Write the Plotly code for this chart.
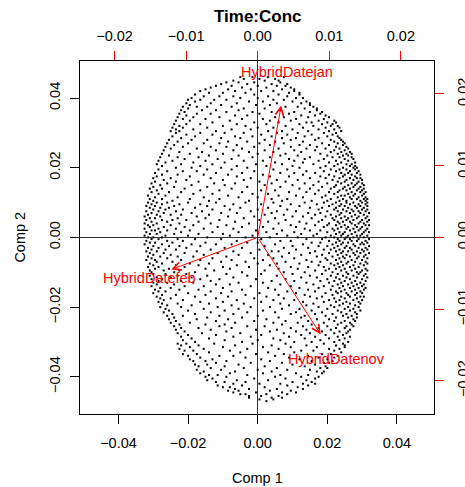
import plotly.graph_objects as go

# ---------------- data ----------------
TITLE = "Time:Conc"
X_LABEL = "Comp 1"
Y_LABEL = "Comp 2"

VAR_NAMES = ["HybridDatejan", "HybridDatefeb", "HybridDatenov"]
LOAD_X = [0.0041, -0.0151, 0.0110]
LOAD_Y = [0.0230, -0.0056, -0.0169]

SCORE_TICKS = [-0.04, -0.02, 0.00, 0.02, 0.04]
LOAD_TICKS = [-0.02, -0.01, 0.00, 0.01, 0.02]

# score cloud (units of 0.0005): {y: [x, ...]}
SCORE_UNIT = 0.0005
CLOUD_TOP = {
    92: [-10, -3, 6, 15], 91: [-8, 1, 10], 90: [-14, 4, 12], 89: [-18, -11, -2, 13],
    88: [-21, -6, 8, 17], 87: [-24, -15, 0, 11, 16], 86: [-27, -9, 5, 19],
    85: [-30, -17, -4, 14, 21], 84: [-33, -13, 2, 9, 21], 83: [-28, -20, -7, 18, 24],
    82: [-36, -2, 12, 24], 81: [-31, -22, -14, 6, 17], 80: [-38, -10, 0, 22, 26],
    79: [-40, -33, -25, -18, 9, 15], 78: [-36, -5, 3, 20, 28], 77: [-41, -27, -12, 11, 25, 30],
    76: [-39, -21, -1, 7, 30], 75: [-43, -35, -29, -15, 16, 23, 32], 74: [-40, -8, 4, 27, 34],
    73: [-44, -32, -24, -11, 13, 34], 72: [-42, -18, -3, 8, 21, 30, 37],
    71: [-45, -35, -27, 1, 18, 36], 70: [-41, -13, -6, 25, 33, 39],
    69: [-46, -37, -22, 10, 15, 29, 41], 68: [-43, -30, -9, 3, 22, 38],
    67: [-47, -39, -16, 7, 19, 35, 44], 66: [-26, -2, 12, 28, 31, 40, 45],
    65: [-48, -41, -33, -12, 5, 24, 37, 43], 64: [-45, -20, -7, 16, 32, 42, 46],
    63: [-49, -43, -29, 0, 9, 26, 39, 47], 62: [-47, -37, -15, -4, 20, 35, 44],
    61: [-50, -45, -24, 6, 14, 29, 41, 48],
}
CLOUD_UPPER = {
    60: [-47, -33, -19, -8, 11, 23, 38, 45], 59: [-41, -26, 2, 17, 31, 43],
    58: [-49, -36, -13, -3, 8, 27, 40, 46], 57: [-44, -21, -10, 14, 22, 35, 47],
    56: [-51, -38, -29, 4, 19, 33, 42, 48], 55: [-46, -17, -6, 10, 26, 44, 49],
    54: [-52, -40, -31, -22, 1, 15, 37, 46, 50], 53: [-48, -12, 7, 24, 30, 41, 49],
    52: [-53, -43, -27, -18, -2, 19, 34, 45, 51], 51: [-50, -35, -9, 12, 28, 39, 47, 52],
    50: [-54, -24, -14, 4, 21, 33, 44, 50], 49: [-45, -32, -5, 9, 25, 42, 48, 53],
    48: [-55, -39, -20, 0, 16, 36, 46, 51, 54], 47: [-51, -28, -11, 13, 23, 40, 49, 52],
    46: [-56, -46, -34, -3, 7, 30, 43, 47, 54], 45: [-42, -23, -15, 18, 27, 38, 50, 55],
    44: [-57, -49, -30, -8, 3, 21, 35, 45, 52], 43: [-53, -37, -19, 10, 26, 41, 48, 56],
    42: [-58, -44, -26, -1, 14, 32, 46, 51, 54], 41: [-55, -33, -12, 5, 20, 39, 44, 53, 56],
    40: [-47, -38, -21, -6, 24, 36, 49, 55, 57], 39: [-57, -29, -15, 9, 17, 42, 47, 51, 56],
    38: [-52, -43, -35, -2, 28, 38, 45, 53, 58], 37: [-59, -24, -9, 13, 21, 33, 48, 52, 57],
    36: [-55, -46, -31, -17, 3, 26, 41, 50, 54, 59], 35: [-58, -39, -12, 7, 18, 36, 44, 49, 56],
    34: [-60, -50, -27, -4, 30, 39, 47, 53, 57, 59], 33: [-54, -41, -20, -8, 11, 23, 43, 51, 55, 60],
    32: [-59, -47, -34, 1, 16, 35, 46, 50, 58], 31: [-61, -52, -25, -13, 8, 27, 40, 48, 54, 57, 60],
    30: [-56, -38, -19, 4, 20, 32, 45, 52, 56, 61], 29: [-60, -48, -29, -6, 13, 37, 44, 50, 55, 59],
    28: [-62, -55, -42, -15, 24, 30, 42, 49, 53, 58, 61], 27: [-58, -33, -22, 2, 10, 35, 47, 51, 57, 60],
    26: [-61, -51, -44, -9, 18, 28, 41, 46, 54, 59, 62], 25: [-57, -37, -26, -3, 6, 33, 44, 52, 56, 61],
    24: [-63, -53, -17, 12, 22, 39, 48, 50, 55, 60], 23: [-59, -46, -31, -11, 0, 26, 37, 46, 53, 58, 62],
    22: [-62, -55, -39, -22, 8, 17, 42, 49, 54, 57, 61, 63], 21: [-60, -49, -28, -5, 14, 31, 40, 47, 51, 59, 62],
}
CLOUD_MIDDLE = {
    20: [-63, -58, -52, -40, -24, -7, 9, 27, 38, 45, 51, 55, 60, 63],
    19: [-61, -55, -45, -33, -14, 2, 19, 34, 43, 48, 53, 58, 62],
    18: [-64, -59, -48, -29, -19, 13, 24, 41, 47, 50, 56, 59, 63],
    17: [-62, -56, -51, -36, -10, 6, 30, 37, 45, 52, 57, 61],
    16: [-60, -53, -43, -26, -16, 0, 17, 35, 44, 49, 54, 60, 63],
    15: [-64, -57, -47, -32, -4, 11, 22, 40, 46, 51, 55, 58, 62],
    14: [-61, -54, -38, -21, -12, 8, 29, 36, 48, 53, 59, 64],
    13: [-63, -58, -50, -44, -28, 4, 15, 33, 42, 47, 56, 61],
    12: [-65, -56, -35, -17, -2, 20, 26, 39, 45, 50, 54, 58, 63],
    11: [-62, -59, -46, -30, -8, 10, 31, 43, 48, 52, 57, 62],
    10: [-64, -55, -49, -41, -22, 1, 16, 37, 44, 51, 55, 60, 64],
    9: [-61, -52, -34, -13, 6, 24, 35, 46, 49, 53, 59, 63],
    8: [-65, -58, -45, -27, -5, 12, 28, 41, 47, 54, 58, 61],
    7: [-63, -60, -50, -37, -18, 19, 33, 40, 45, 50, 56, 62, 64],
    6: [-62, -54, -42, -23, -9, 3, 22, 38, 48, 52, 57, 60],
    5: [-65, -57, -47, -31, -14, 9, 27, 43, 46, 51, 55, 59, 63],
    4: [-61, -59, -52, -39, -1, 14, 30, 36, 44, 53, 58, 62],
    3: [-64, -56, -44, -26, -11, 5, 21, 40, 47, 50, 56, 61, 64],
    2: [-62, -58, -48, -34, -20, 11, 25, 34, 45, 49, 54, 60],
    1: [-65, -53, -40, -16, -3, 17, 32, 42, 48, 52, 57, 59, 63],
    0: [-63, -60, -55, -29, -7, 7, 23, 39, 44, 51, 55, 61],
    -1: [-61, -57, -46, -36, -21, 2, 28, 37, 46, 50, 53, 58, 64],
    -2: [-64, -52, -43, -12, 13, 19, 41, 47, 54, 57, 62],
    -3: [-62, -59, -49, -30, -6, 0, 31, 36, 45, 49, 52, 60, 63],
    -4: [-65, -55, -38, -24, -15, 10, 26, 43, 48, 55, 59, 61],
    -5: [-60, -51, -45, -33, 4, 20, 35, 40, 46, 51, 56, 64],
    -6: [-63, -57, -41, -19, -9, 15, 29, 44, 50, 53, 58, 62],
    -7: [-61, -53, -47, -27, 1, 22, 38, 42, 47, 54, 60, 63],
    -8: [-64, -58, -35, -14, 8, 12, 33, 45, 49, 52, 57, 61],
    -9: [-62, -54, -42, -23, -4, 18, 30, 41, 48, 55, 59, 64],
    -10: [-60, -50, -31, -11, 6, 25, 37, 46, 51, 56, 62],
    -11: [-63, -56, -46, -37, -18, 14, 34, 43, 49, 53, 58, 61],
    -12: [-61, -52, -26, -2, 9, 21, 39, 47, 50, 57, 63],
    -13: [-64, -59, -44, -33, -15, 3, 28, 40, 45, 54, 60],
    -14: [-58, -49, -21, -7, 16, 31, 36, 48, 52, 56, 62],
    -15: [-62, -55, -39, -28, 0, 11, 24, 42, 46, 51, 59, 63],
    -16: [-60, -47, -34, -12, 7, 35, 44, 49, 55, 61],
    -17: [-63, -57, -42, -20, -5, 19, 29, 38, 47, 53, 58],
    -18: [-59, -51, -30, -16, 12, 23, 41, 45, 50, 56, 62],
    -19: [-62, -54, -45, -25, 4, 33, 39, 48, 54, 60, 63],
    -20: [-61, -48, -36, -9, 15, 27, 43, 51, 57, 59],
}
CLOUD_LOWER = {
    -21: [-60, -53, -41, -18, 2, 20, 37, 46, 52, 58, 62], -22: [-62, -46, -29, -6, 11, 30, 42, 49, 55, 61],
    -23: [-58, -50, -38, -14, 25, 34, 45, 51, 57, 63], -24: [-61, -55, -33, -22, -1, 16, 40, 47, 53, 60],
    -25: [-57, -44, -27, 8, 21, 36, 44, 50, 56, 62], -26: [-60, -52, -37, -11, 3, 28, 41, 48, 54, 59],
    -27: [-58, -48, -24, -16, 13, 32, 46, 52, 57, 61], -28: [-61, -42, -31, -4, 19, 38, 43, 49, 55, 60],
    -29: [-56, -50, -20, 6, 24, 35, 47, 53, 58, 62], -30: [-59, -45, -34, -9, 10, 29, 42, 50, 56, 61],
    -31: [-57, -53, -27, -15, 17, 33, 45, 48, 54, 59], -32: [-60, -40, -21, 1, 22, 39, 46, 51, 57, 60],
    -33: [-55, -47, -30, -7, 12, 27, 43, 52, 56], -34: [-58, -36, -17, 5, 30, 37, 48, 53, 59, 61],
    -35: [-56, -50, -24, -2, 15, 34, 44, 50, 57], -36: [-54, -43, -12, 9, 21, 41, 47, 55, 60],
    -37: [-57, -33, -20, 2, 26, 38, 45, 51, 58], -38: [-55, -46, -28, -8, 13, 32, 49, 53, 59],
    -39: [-52, -38, -15, 18, 28, 42, 47, 56], -40: [-56, -44, -23, -4, 7, 35, 44, 52, 58],
    -41: [-53, -31, -11, 14, 24, 40, 50, 55], -42: [-51, -40, -19, 3, 31, 46, 53, 59],
    -43: [-54, -27, -6, 10, 22, 37, 48, 56], -44: [-49, -36, -14, 19, 33, 43, 51, 57],
    -45: [-52, -43, -22, 0, 27, 39, 49, 54], -46: [-48, -29, -9, 12, 25, 45, 52, 57],
    -47: [-51, -35, -17, 5, 34, 41, 55], -48: [-47, -24, -2, 16, 29, 44, 50, 56],
    -49: [-50, -39, -13, 9, 23, 38, 48, 53], -50: [-45, -30, -19, 14, 31, 46, 54],
    -51: [-48, -22, -6, 4, 26, 40, 51, 55], -52: [-44, -34, -15, 19, 35, 45, 50],
    -53: [-47, -27, -1, 11, 28, 42, 53], -54: [-42, -18, 7, 22, 37, 47, 52],
    -55: [-46, -32, -10, 15, 30, 44, 51], -56: [-40, -24, 2, 25, 39, 49],
    -57: [-44, -14, -4, 18, 33, 46, 53], -58: [-38, -28, 9, 27, 41, 50],
    -59: [-43, -19, 0, 13, 36, 47], -60: [-36, -9, 21, 31, 44, 52],
}
CLOUD_BOTTOM = {
    -61: [-46, -41, -25, -3, 16, 38, 49], -62: [-44, -34, -13, 8, 28, 45, 50],
    -63: [-39, -20, 3, 19, 34, 50], -64: [-45, -31, -6, 12, 41, 47],
    -65: [-42, -37, -16, 25, 32, 44], -66: [-28, -10, 6, 21, 48],
    -67: [-43, -35, -1, 15, 37, 42], -68: [-40, -22, -14, 10, 29, 46],
    -69: [-33, -7, 18, 35, 44], -70: [-39, -26, 2, 24, 40],
    -71: [-37, -30, -18, 7, 31, 43], -72: [-24, -4, 14, 38, 41],
    -73: [-36, -29, -11, 20, 33], -74: [-34, -19, 4, 27, 39],
    -75: [-27, -8, 11, 36, 40], -76: [-35, -21, 0, 17, 30],
    -77: [-31, -13, 8, 34, 38], -78: [-33, -16, 3, 22, 37],
    -79: [-28, -23, -6, 13, 29], -80: [-30, -18, 10, 25, 35],
    -81: [-26, -2, 16, 33], -82: [-29, -12, 6, 28], -83: [-24, -19, -7, 20, 31],
    -84: [-14, 1, 13, 26, 33], -85: [-23, -9, 17, 29], -86: [-20, -16, 4, 23],
    -87: [-13, -5, 11, 26], -88: [-17, -11, 7, 19], -89: [-14, -1, 14, 22],
    -90: [-10, -7, 5, 17], -91: [-5, 2, 12], -92: [-5, 8, 14], -93: [1, 9], -94: [5],
}
CLOUD_PARTS = [CLOUD_TOP, CLOUD_UPPER, CLOUD_MIDDLE, CLOUD_LOWER, CLOUD_BOTTOM]

# ---------------- figure ----------------
FONT = "Liberation Sans, Arial, Helvetica, sans-serif"
RED = "#FF0000"

score_x, score_y = [], []
for part in CLOUD_PARTS:
    for yu, row in part.items():
        for xu in row:
            score_x.append(xu * SCORE_UNIT)
            score_y.append(yu * SCORE_UNIT)

fig = go.Figure()
fig.add_trace(go.Scatter(
    x=score_x, y=score_y, mode="markers", xaxis="x", yaxis="y",
    marker=dict(symbol="square", size=2, color="black", line=dict(width=0)),
    hoverinfo="skip", showlegend=False,
))
# invisible trace carrying the loading axes
fig.add_trace(go.Scatter(
    x=LOAD_X, y=LOAD_Y, mode="markers", xaxis="x2", yaxis="y2",
    marker=dict(size=1, opacity=0), hoverinfo="skip", showlegend=False,
))

annotations = []
for name, lx, ly in zip(VAR_NAMES, LOAD_X, LOAD_Y):
    annotations.append(dict(
        x=0.8 * lx, y=0.8 * ly, ax=0, ay=0, xref="x2", yref="y2",
        axref="x2", ayref="y2", text="", showarrow=True, arrowhead=5,
        arrowsize=1.6, arrowwidth=1, arrowcolor=RED, standoff=0,
    ))
    annotations.append(dict(
        x=lx, y=ly, xref="x2", yref="y2", text=name, showarrow=False,
        xanchor="center", yanchor="middle",
        font=dict(family=FONT, size=14.5, color=RED),
    ))
annotations.append(dict(
    x=0.502, y=1.125, xref="paper", yref="paper", text="<b>" + TITLE + "</b>",
    showarrow=False, xanchor="center", yanchor="middle",
    font=dict(family=FONT, size=17, color="black"),
))
annotations.append(dict(
    x=0.502, y=-0.1805, xref="paper", yref="paper", text=X_LABEL,
    showarrow=False, xanchor="center", yanchor="middle",
    font=dict(family=FONT, size=14.5, color="black"),
))
annotations.append(dict(
    x=-0.172, y=0.5, xref="paper", yref="paper", text=Y_LABEL, textangle=-90,
    showarrow=False, xanchor="center", yanchor="middle",
    font=dict(family=FONT, size=14.5, color="black"),
))

tickfont = dict(family=FONT, size=14.5, color="black")
common = dict(automargin=False, showgrid=False, tickfont=tickfont, tickformat=".2f",
              ticks="outside", tickwidth=1, ticklen=9)
fig.update_layout(
    width=465, height=487,
    margin=dict(l=80, r=31, t=61, b=73, pad=0, autoexpand=False),
    paper_bgcolor="white", plot_bgcolor="white",
    showlegend=False,
    xaxis=dict(
        range=[-0.05106, 0.05066], tickvals=SCORE_TICKS, tickcolor="black",
        showline=True, linecolor="black", linewidth=1, mirror=True,
        zeroline=True, zerolinecolor="#333333", zerolinewidth=1,
        ticklabelstandoff=7, **common,
    ),
    yaxis=dict(
        range=[-0.05069, 0.05063], tickvals=SCORE_TICKS, tickcolor="black",
        tickangle=-90, showline=True, linecolor="black", linewidth=1, mirror=True,
        zeroline=True, zerolinecolor="#333333", zerolinewidth=1,
        ticklabelstandoff=4, **common,
    ),
    xaxis2=dict(
        overlaying="x", side="top", anchor="y",
        range=[-0.02483, 0.02463], tickvals=LOAD_TICKS, tickcolor=RED,
        showline=False, zeroline=False, ticklabelstandoff=4, **common,
    ),
    yaxis2=dict(
        overlaying="y", side="right", anchor="x",
        range=[-0.02463, 0.0246], tickvals=LOAD_TICKS, tickcolor=RED,
        tickangle=-90, showline=False, zeroline=False, ticklabelstandoff=7, **common,
    ),
    annotations=annotations,
)

fig.write_html(
    "out.html",
    config={"displayModeBar": False, "staticPlot": True},
    post_script="document.body.style.margin='0';document.body.style.overflow='hidden';",
)
